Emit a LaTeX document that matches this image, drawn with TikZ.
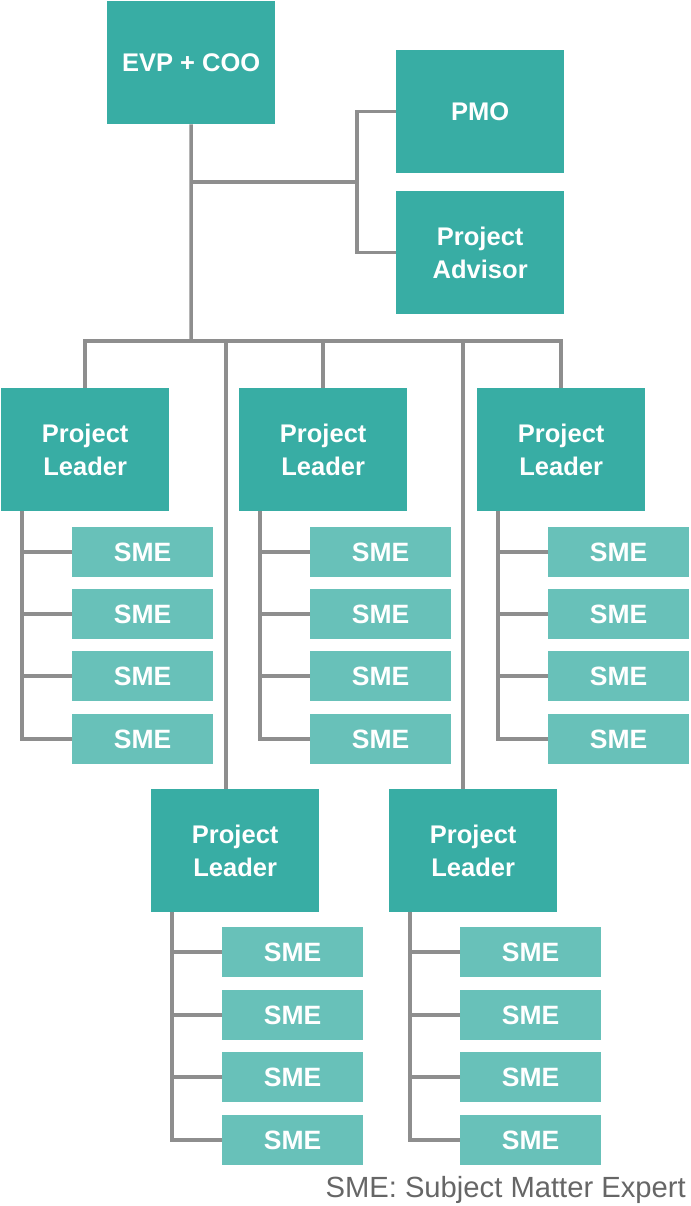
\documentclass[tikz,border=0pt]{standalone}
\usepackage{fontspec}
\setmainfont{Liberation Sans}
\definecolor{tealdark}{HTML}{38ADA4}
\definecolor{teallight}{HTML}{68C1B9}
\definecolor{linegray}{HTML}{8E8E8E}
\definecolor{notegray}{HTML}{666666}
\begin{document}
\begin{tikzpicture}[x=1pt,y=-1pt,
  bigbox/.style={fill=tealdark, text=white, font=\bfseries\fontsize{25.5}{33}\selectfont,
    align=center, inner sep=0pt, anchor=north west, minimum width=168pt, minimum height=123pt},
  smebox/.style={fill=teallight, text=white, font=\bfseries\fontsize{26.5}{30}\selectfont,
    inner sep=0pt, anchor=north west, minimum width=141pt, minimum height=50pt},
  conn/.style={draw=linegray, line width=3.5pt, line join=miter},
  notetext/.style={text=notegray, font=\fontsize{29.2}{32}\selectfont, inner sep=0pt, anchor=base east}]
\useasboundingbox (0,0) rectangle (690,1206);

% top level
\node[bigbox] (evp) at (107,1) {EVP + COO};
\node[bigbox] (pmo) at (396,50) {PMO};
\node[bigbox] (pa) at (396,191) {Project\\Advisor};

\coordinate (br) at (191,182);
\coordinate (bx) at (357,182);
\coordinate (bus) at (191,341);
\coordinate (d1) at (226,341);
\coordinate (d2) at (463,341);

% upper project leaders with SMEs
\foreach \c/\x in {1/1, 2/239, 3/477} {
  \node[bigbox] (pl\c) at (\x,388) {Project\\Leader};
  \foreach \r/\y in {1/527, 2/589, 3/651, 4/714}
    \node[smebox] (s\c\r) at (\x+71,\y) {SME};
  \coordinate (col\c) at ([xshift=21pt]pl\c.south west);
  \draw[conn] (col\c) |- (s\c4.west);
  \foreach \r in {1,2,3}
    \draw[conn] (s\c\r.west) -- (s\c\r.west -| col\c);
}

% lower project leaders with SMEs
\foreach \c/\x in {4/151, 5/389} {
  \node[bigbox] (pl\c) at (\x,789) {Project\\Leader};
  \foreach \r/\y in {1/927, 2/990, 3/1052, 4/1115}
    \node[smebox] (s\c\r) at (\x+71,\y) {SME};
  \coordinate (col\c) at ([xshift=21pt]pl\c.south west);
  \draw[conn] (col\c) |- (s\c4.west);
  \foreach \r in {1,2,3}
    \draw[conn] (s\c\r.west) -- (s\c\r.west -| col\c);
}

% connectors
\draw[conn] (evp.south) -- (bus);
\draw[conn] (br) -- (bx);
\draw[conn] (pmo.west) -| (bx) |- (pa.west);
\draw[conn] (pl1.north) -- (pl1.north |- bus) -- (pl3.north |- bus) -- (pl3.north);
\draw[conn] (pl2.north) -- (pl2.north |- bus);
\draw[conn] (d1) -- (d1 |- pl4.north);
\draw[conn] (d2) -- (d2 |- pl5.north);

\node[notetext] (note) at (686,1197) {SME: Subject Matter Expert};
\end{tikzpicture}
\end{document}
